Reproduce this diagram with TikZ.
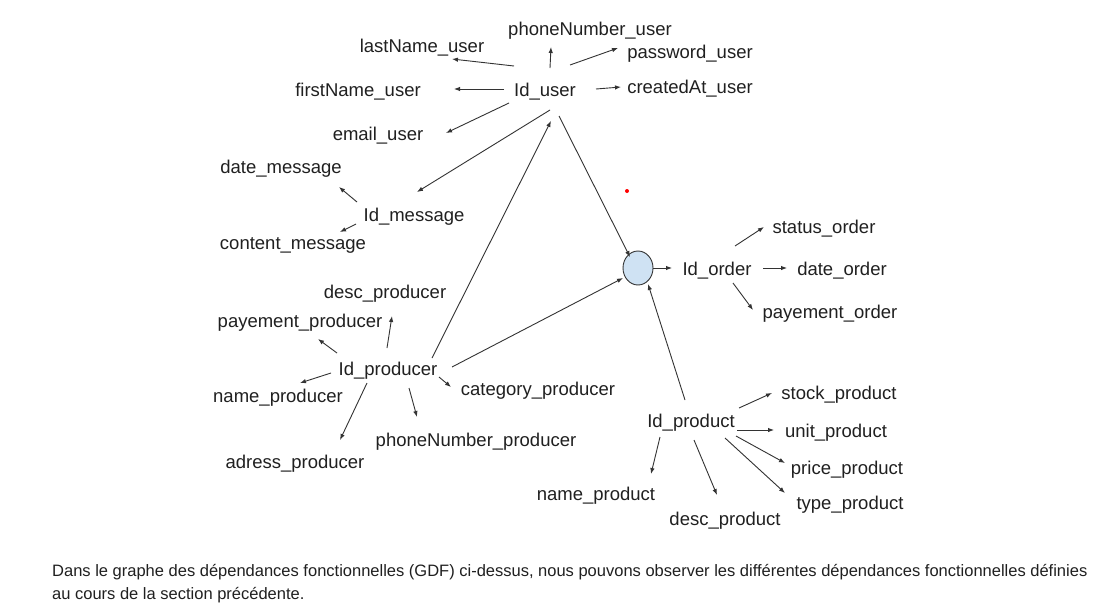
\documentclass[tikz,border=0pt]{standalone}
\usepackage{fontspec}
\setmainfont{Liberation Sans}
\usetikzlibrary{arrows.meta,shapes.geometric}
\definecolor{txt}{HTML}{202020}
\definecolor{ln}{HTML}{333333}
\definecolor{hubfill}{HTML}{CFE2F3}
\tikzset{
  lbl/.style={inner sep=0pt,outer sep=0pt,text=txt,font=\fontsize{18.5}{22}\selectfont,anchor=center,text height=18.4pt,text depth=3.9pt},
  arr/.style={draw=ln,line width=0.9pt,-{Latex[length=6pt,width=4.5pt]}},
  captext/.style={inner sep=0pt,text=txt,font=\fontsize{16.5}{21}\selectfont,anchor=west},
  hubstyle/.style={ellipse,draw=ln,line width=0.9pt,fill=hubfill,minimum width=30pt,minimum height=34pt,inner sep=0pt}
}
\begin{document}
\begin{tikzpicture}[x=1pt,y=-1pt]
\useasboundingbox[fill=white] (0,0) rectangle (1096,611);
% user
\node[lbl] (phoneUser) at (590,28) {phoneNumber\_user};
\node[lbl] (lastUser) at (422,45) {lastName\_user};
\node[lbl] (passUser) at (690,51) {password\_user};
\node[lbl] (idUser) at (545,89) {Id\_user};
\node[lbl] (firstUser) at (358,89) {firstName\_user};
\node[lbl] (createdUser) at (690,86) {createdAt\_user};
\node[lbl] (emailUser) at (378,133) {email\_user};
% message
\node[lbl] (dateMsg) at (281,166) {date\_message};
\node[lbl] (idMsg) at (414,214) {Id\_message};
\node[lbl] (contentMsg) at (293,242) {content\_message};
% producer
\node[lbl] (descProd) at (385,291) {desc\_producer};
\node[lbl] (payProd) at (300,320) {payement\_producer};
\node[lbl] (idProd) at (388,368) {Id\_producer};
\node[lbl] (nameProd) at (278,395) {name\_producer};
\node[lbl] (catProd) at (538,388) {category\_producer};
\node[lbl] (phoneProd) at (476,439) {phoneNumber\_producer};
\node[lbl] (adrProd) at (295,461) {adress\_producer};
% order
\node[hubstyle] (hub) at (638,268) {};
\node[lbl] (idOrder) at (717,268) {Id\_order};
\node[lbl] (statusOrder) at (824,226) {status\_order};
\node[lbl] (dateOrder) at (842,268) {date\_order};
\node[lbl] (payOrder) at (830,311) {payement\_order};
% product
\node[lbl] (stockP) at (839,392) {stock\_product};
\node[lbl] (idP) at (691,420) {Id\_product};
\node[lbl] (unitP) at (836,430) {unit\_product};
\node[lbl] (priceP) at (847,467) {price\_product};
\node[lbl] (typeP) at (850,502) {type\_product};
\node[lbl] (nameP) at (596,493) {name\_product};
\node[lbl] (descP) at (725,518) {desc\_product};
% red dot
\fill[red] (627,191) circle (2);
% arrows from Id_user
\draw[arr] ([shift={(-31,-23)}]idUser.center) -- ([shift={(30,14)}]lastUser.center);
\draw[arr] ([shift={(5,-21)}]idUser.center) -- ([shift={(-39,19)}]phoneUser.center);
\draw[arr] ([shift={(25,-24)}]idUser.center) -- ([shift={(-72,-3)}]passUser.center);
\draw[arr] ([shift={(-41,0)}]idUser.center) -- ([shift={(96,0)}]firstUser.center);
\draw[arr] ([shift={(51,0)}]idUser.center) -- ([shift={(-69,1)}]createdUser.center);
\draw[arr] ([shift={(-36,14)}]idUser.center) -- ([shift={(68,0)}]emailUser.center);
\draw[arr] ([shift={(5,21)}]idUser.center) -- ([shift={(3,-22)}]idMsg.center);
\draw[arr] ([shift={(14,27)}]idUser.center) -- ([shift={(-8,-11)}]hub.center);
% message
\draw[arr] ([shift={(-57,-12)}]idMsg.center) -- ([shift={(58,21)}]dateMsg.center);
\draw[arr] ([shift={(-58,10)}]idMsg.center) -- ([shift={(47,-10)}]contentMsg.center);
% producer
\draw[arr] ([shift={(44,-10)}]idProd.center) -- ([shift={(6,32)}]idUser.center);
\draw[arr] ([shift={(-1,-20)}]idProd.center) -- ([shift={(7,25)}]descProd.center);
\draw[arr] ([shift={(-51,-15)}]idProd.center) -- ([shift={(18,19)}]payProd.center);
\draw[arr] ([shift={(-57,5)}]idProd.center) -- ([shift={(22,-12)}]nameProd.center);
\draw[arr] ([shift={(-21,15)}]idProd.center) -- ([shift={(45,-21)}]adrProd.center);
\draw[arr] ([shift={(21,20)}]idProd.center) -- ([shift={(-59,-22)}]phoneProd.center);
\draw[arr] ([shift={(51,9)}]idProd.center) -- ([shift={(-87,-1)}]catProd.center);
\draw[arr] ([shift={(64,-1)}]idProd.center) -- ([shift={(-15,10)}]hub.center);
% order
\draw[arr] ([shift={(15,0)}]hub.center) -- ([shift={(-45,0)}]idOrder.center);
\draw[arr] ([shift={(18,-22)}]idOrder.center) -- ([shift={(-60,1)}]statusOrder.center);
\draw[arr] ([shift={(46,0)}]idOrder.center) -- ([shift={(-55,0)}]dateOrder.center);
\draw[arr] ([shift={(16,15)}]idOrder.center) -- ([shift={(-77,-1)}]payOrder.center);
% product
\draw[arr] ([shift={(-6,-20)}]idP.center) -- ([shift={(10,16)}]hub.center);
\draw[arr] ([shift={(48,-12)}]idP.center) -- ([shift={(-67,1)}]stockP.center);
\draw[arr] ([shift={(46,10)}]idP.center) -- ([shift={(-62,0)}]unitP.center);
\draw[arr] ([shift={(45,16)}]idP.center) -- ([shift={(-62,-4)}]priceP.center);
\draw[arr] ([shift={(34,18)}]idP.center) -- ([shift={(-65,-9)}]typeP.center);
\draw[arr] ([shift={(3,20)}]idP.center) -- ([shift={(-8,-23)}]descP.center);
\draw[arr] ([shift={(-31,17)}]idP.center) -- ([shift={(55,-19)}]nameP.center);
% caption
\node[captext] (cap1) at (52,572) {Dans le graphe des dépendances fonctionnelles (GDF) ci-dessus, nous pouvons observer les différentes dépendances fonctionnelles définies};
\node[captext] (cap2) at (52,595) {au cours de la section précédente.};
\end{tikzpicture}
\end{document}
